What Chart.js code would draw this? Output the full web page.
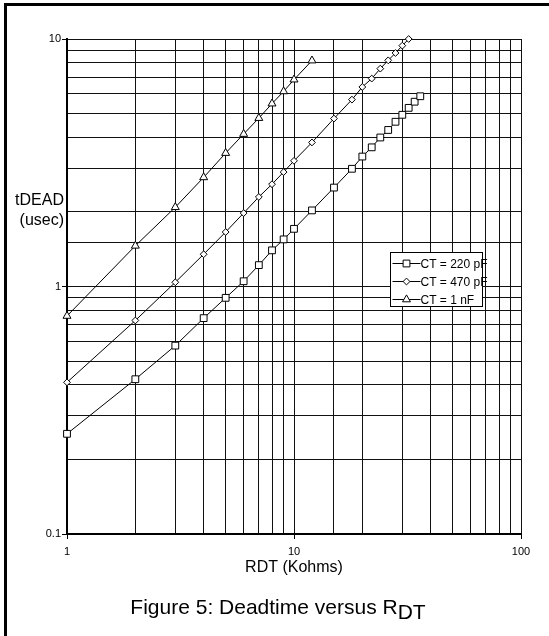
<!DOCTYPE html>
<html>
<head>
<meta charset="utf-8">
<script src="https://cdn.jsdelivr.net/npm/chart.js@4"></script>
<style>
  html, body { margin: 0; padding: 0; background: #fff; }
  #wrap { position: relative; width: 549px; height: 636px; overflow: hidden;
          font-family: "Liberation Sans", Arial, sans-serif; color: #000; }
  #frame { position: absolute; left: 4px; top: 3px; right: -10px; bottom: -10px;
           border-left: 3px solid #000; border-top: 3px solid #000; }
  #chart { position: absolute; left: 0; top: 0; }
  .ytitle { position: absolute; right: 485px; top: 190px; font-size: 16px;
            line-height: 20px; text-align: right; }
  .caption { position: absolute; left: 0; width: 556px; top: 595px; font-size: 21px;
             line-height: 24px; text-align: center; white-space: nowrap; }
  .caption span { position: relative; top: 5px; }
</style>
</head>
<body>
<div id="wrap">
  <div id="frame"></div>
  <canvas id="chart" width="549" height="636"></canvas>
  <div class="ytitle">tDEAD<br>(usec)</div>
  <div class="caption">Figure 5: Deadtime versus R<span>DT</span></div>
</div>
<script>
// RDT in kohms
const rdt = [1, 2, 3, 4, 5, 6, 7, 8, 9, 10, 12, 15, 18, 20, 22, 24, 26, 28, 30, 32, 34, 36];

// tDEAD in usec
const ct220 = [0.254, 0.422, 0.577, 0.745, 0.90, 1.05, 1.22, 1.40, 1.55, 1.71, 2.03,
               2.51, 2.99, 3.35, 3.65, 4.00, 4.29, 4.63, 4.94, 5.27, 5.58, 5.87];
const ct470 = [0.41, 0.729, 1.04, 1.35, 1.66, 1.98, 2.30, 2.59, 2.90, 3.22, 3.82,
               4.77, 5.69, 6.40, 6.92, 7.59, 8.20, 8.78, 9.40, 10.0];
const ct1n = [0.76, 1.46, 2.09, 2.76, 3.46, 4.13, 4.79, 5.48, 6.14, 6.85, 8.18];

const seriesNames = ["CT = 220 pF", "CT = 470 pF", "CT = 1 nF"];

const xTickValues = [1, 10, 100];
const xTickLabels = ["1", "10", "100"];
const yTickValues = [0.1, 1, 10];
const yTickLabels = ["0.1", "1", "10"];

function toPoints(values) {
  return values.map((v, i) => ({ x: rdt[i], y: v }));
}

function findTick(values, v) {
  return values.findIndex(t => Math.abs(t - v) < 1e-9 * Math.max(1, t));
}

const lineSet = {
  borderColor: "#000",
  borderWidth: 1,
  pointBackgroundColor: "#fff",
  pointBorderColor: "#000",
  pointBorderWidth: 1,
  tension: 0,
  clip: false
};

/* ========== legend box inside the plot ========== */

const boxLegend = {
  id: "boxLegend",
  afterDatasetsDraw(chart) {
    const ctx = chart.ctx;
    const left = 390.5, top = 252.5, w = 92, h = 54;
    ctx.save();
    ctx.fillStyle = "#fff";
    ctx.strokeStyle = "#000";
    ctx.lineWidth = 1;
    ctx.fillRect(left, top, w, h);
    ctx.strokeRect(left, top, w, h);

    ctx.font = '12px "Liberation Sans", Arial, sans-serif';
    ctx.textBaseline = "middle";
    ctx.textAlign = "left";

    chart.data.datasets.forEach((ds, i) => {
      const y = Math.round(top + 10 + i * 18) + 0.5;
      ctx.strokeStyle = "#000";
      ctx.beginPath();
      ctx.moveTo(left + 2, y);
      ctx.lineTo(left + 30, y);
      ctx.stroke();
      ctx.fillStyle = "#fff";
      Chart.helpers.drawPoint(ctx, {
        pointStyle: ds.pointStyle,
        radius: ds.pointRadius,
        rotation: 0,
        borderWidth: 1
      }, left + 16, y);
      ctx.fillStyle = "#000";
      ctx.fillText(ds.label, left + 30, y + 1);
    });
    ctx.restore();
  }
};

/* ========== chart ========== */

new Chart(document.getElementById("chart"), {
  type: "line",
  data: {
    datasets: [
      { ...lineSet, label: seriesNames[0], data: toPoints(ct220),
        pointStyle: "rect", pointRadius: 4.8 },
      { ...lineSet, label: seriesNames[1], data: toPoints(ct470),
        pointStyle: "rectRot", pointRadius: 3.4 },
      { ...lineSet, label: seriesNames[2], data: toPoints(ct1n),
        pointStyle: "triangle", pointRadius: 4.6 }
    ]
  },
  options: {
    responsive: false,
    animation: false,
    devicePixelRatio: 1,
    layout: { padding: { left: 0, top: 39, right: 28, bottom: 59 } },
    plugins: {
      legend: { display: false },
      tooltip: { enabled: false }
    },
    scales: {
      x: {
        type: "logarithmic",
        min: 1,
        max: 100,
        grid: {
          color: "#111",
          lineWidth: 1,
          tickLength: 5,
          tickColor: c => findTick(xTickValues, c.tick.value) >= 0 ? "#000" : "rgba(0,0,0,0)"
        },
        border: { color: "#000", width: 2 },
        ticks: {
          autoSkip: false,
          maxRotation: 0,
          color: "#000",
          padding: 6,
          font: { family: '"Liberation Sans", Arial, sans-serif', size: 11 },
          callback: v => {
            const k = findTick(xTickValues, v);
            return k >= 0 ? xTickLabels[k] : "";
          }
        },
        title: {
          display: true,
          text: "RDT (Kohms)",
          color: "#000",
          padding: 0,
          font: { family: '"Liberation Sans", Arial, sans-serif', size: 16 }
        },
        afterFit: s => { s.height = 43; }
      },
      y: {
        type: "logarithmic",
        min: 0.1,
        max: 10,
        grid: {
          color: "#111",
          lineWidth: 1,
          tickLength: 5,
          tickColor: c => findTick(yTickValues, c.tick.value) >= 0 ? "#000" : "rgba(0,0,0,0)"
        },
        border: { color: "#000", width: 2 },
        ticks: {
          autoSkip: false,
          color: "#000",
          padding: 1,
          font: { family: '"Liberation Sans", Arial, sans-serif', size: 11 },
          callback: v => {
            const k = findTick(yTickValues, v);
            return k >= 0 ? yTickLabels[k] : "";
          }
        },
        afterFit: s => { s.width = 67; }
      }
    }
  },
  plugins: [boxLegend]
});
</script>
</body>
</html>
